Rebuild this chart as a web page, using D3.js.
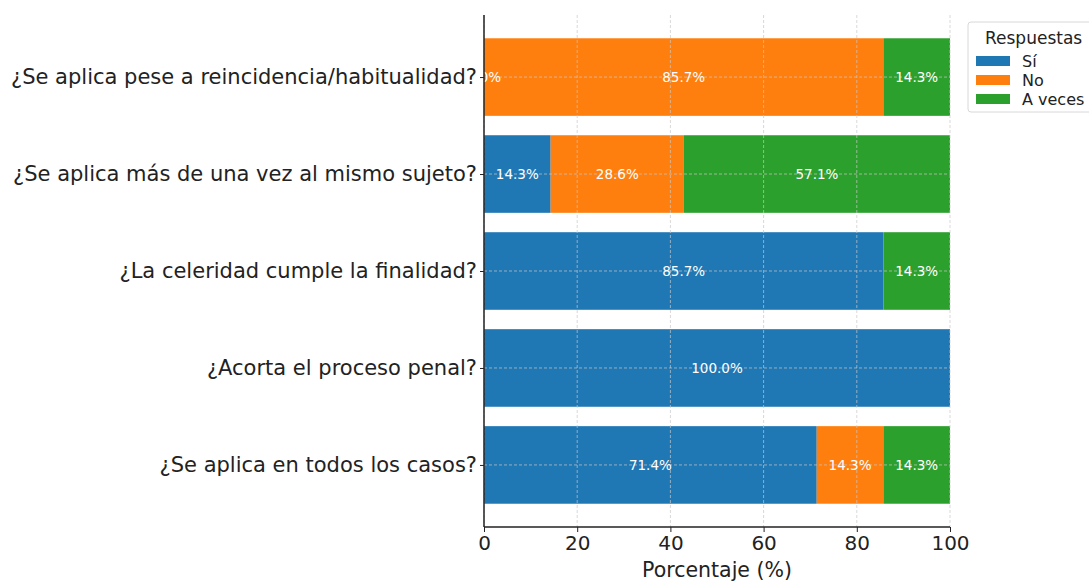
<!DOCTYPE html>
<html>
<head>
<meta charset="utf-8">
<script src="https://cdn.jsdelivr.net/npm/d3@7.9.0/dist/d3.min.js"></script>
<style>
  body { margin: 0; background: #fff; }
  svg { font-family: "DejaVu Sans", sans-serif; }
</style>
</head>
<body>
<svg id="chart" width="1089" height="584"></svg>
<script>
// questions, top to bottom
const questions = [
  '¿Se aplica pese a reincidencia/habitualidad?',
  '¿Se aplica más de una vez al mismo sujeto?',
  '¿La celeridad cumple la finalidad?',
  '¿Acorta el proceso penal?',
  '¿Se aplica en todos los casos?'
];
// null = no answer recorded (no label drawn)
const si      = [0, 14.3, 85.7, 100, 71.4];
const no      = [85.7, 28.6, null, null, 14.3];
const aVeces  = [14.3, 57.1, 14.3, null, 14.3];
const seriesNames = ['Sí', 'No', 'A veces'];
const seriesColors = ['#1f77b4', '#ff7f0e', '#2ca02c'];
const xTicks = [0, 20, 40, 60, 80, 100];

const svg = d3.select('#chart');
const plotL = 484, plotR = 950, plotT = 15, plotB = 527;

const x = d3.scaleLinear().domain([0, 100]).range([plotL, plotR]);
// matplotlib-like margins around the bar band
const y = d3.scaleLinear().domain([-0.64, 4.64]).range([plotT, plotB]);
const barH = y(0.8) - y(0);

const seriesVals = [si, no, aVeces];

// stacked bars
questions.forEach((q, i) => {
  let acc = 0;
  seriesVals.forEach((vals, s) => {
    const v = vals[i] || 0;
    svg.append('rect')
      .attr('x', x(acc))
      .attr('y', y(i) - barH / 2)
      .attr('width', x(acc + v) - x(acc))
      .attr('height', barH)
      .attr('fill', seriesColors[s]);
    acc += v;
  });
});

// grid on top of bars
const grid = svg.append('g')
  .attr('stroke', '#c8c8c8')
  .attr('stroke-opacity', 0.7)
  .attr('stroke-dasharray', '3,2')
  .attr('stroke-width', 1);
xTicks.forEach(t => {
  grid.append('line')
    .attr('x1', x(t)).attr('x2', x(t))
    .attr('y1', plotT).attr('y2', plotB);
});
questions.forEach((q, i) => {
  grid.append('line')
    .attr('x1', plotL).attr('x2', plotR)
    .attr('y1', y(i)).attr('y2', y(i));
});

// segment labels
questions.forEach((q, i) => {
  let acc = 0;
  seriesVals.forEach((vals, s) => {
    const v = vals[i];
    if (v === null) return;
    svg.append('text')
      .attr('x', x(acc + v / 2))
      .attr('y', y(i))
      .attr('dy', '0.35em')
      .attr('text-anchor', 'middle')
      .attr('fill', '#fff')
      .attr('font-size', 13.5)
      .text(v.toFixed(1) + '%');
    acc += v;
  });
});

// axes
const xAxis = d3.axisBottom(x).tickValues(xTicks).tickSize(5).tickPadding(4);
const gx = svg.append('g').attr('transform', `translate(0,${plotB})`).call(xAxis);
gx.select('.domain').attr('stroke', '#222').attr('stroke-width', 1.5).attr('d', `M${plotL},0H${plotR}`);
gx.selectAll('.tick line').attr('stroke', '#222');
gx.selectAll('text').attr('font-size', 20).attr('fill', '#222').attr('font-family', 'DejaVu Sans');

const yAxis = d3.axisLeft(y).tickValues(d3.range(questions.length)).tickFormat(i => questions[i]).tickSize(4).tickPadding(3);
const gy = svg.append('g').attr('transform', `translate(${plotL},0)`).call(yAxis);
gy.select('.domain').attr('stroke', '#222').attr('stroke-width', 1.5).attr('d', `M0,${plotT}V${plotB}`);
gy.selectAll('.tick line').attr('stroke', '#222');
gy.selectAll('text').attr('font-size', 21).attr('fill', '#222').attr('font-family', 'DejaVu Sans');

svg.append('text')
  .attr('x', (plotL + plotR) / 2)
  .attr('y', 577)
  .attr('text-anchor', 'middle')
  .attr('font-size', 20.5)
  .attr('fill', '#222')
  .text('Porcentaje (%)');

// legend
const lg = svg.append('g').attr('transform', 'translate(968,22)');
lg.append('rect')
  .attr('width', 140).attr('height', 90)
  .attr('rx', 3)
  .attr('fill', '#fff')
  .attr('stroke', '#d8d8d8');
lg.append('text')
  .attr('x', 17).attr('y', 22)
  .attr('font-size', 17)
  .attr('fill', '#222')
  .text('Respuestas');
seriesNames.forEach((n, s) => {
  const yy = 39 + s * 19;
  lg.append('rect')
    .attr('x', 8).attr('y', yy - 5)
    .attr('width', 34).attr('height', 10)
    .attr('fill', seriesColors[s]);
  lg.append('text')
    .attr('x', 54).attr('y', yy)
    .attr('dy', '0.35em')
    .attr('font-size', 16)
    .attr('fill', '#222')
    .text(n);
});
</script>
</body>
</html>
